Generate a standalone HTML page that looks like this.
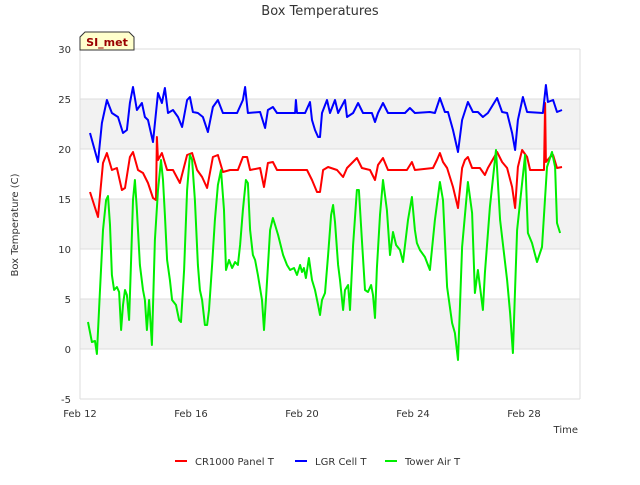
<!DOCTYPE html>
<html><head><meta charset="utf-8"><style>
body{margin:0;background:#fff;font-family:"Liberation Sans","DejaVu Sans",sans-serif}
svg text{font-family:"DejaVu Sans","Liberation Sans",sans-serif}
</style></head><body>
<svg id="chart" width="640" height="480" xmlns="http://www.w3.org/2000/svg">
<rect width="640" height="480" fill="#fff"/>
<g id="bands"></g><g id="grid"></g><g id="axes"></g><g id="series"></g>
<text x="320" y="15" text-anchor="middle" font-size="13" fill="#333">Box Temperatures</text>
<text x="18" y="225" text-anchor="middle" font-size="10" fill="#333" transform="rotate(-90 18 225)">Box Temperature (C)</text>
<text x="578" y="433" text-anchor="end" font-size="10" fill="#333">Time</text>
<g>
<path d="M80,50 L80,37 L85,32 L129,32 L134,37 L134,50 Z" fill="#ffffcc" stroke="#333" stroke-width="1"/>
<text x="107" y="46" text-anchor="middle" font-size="11" font-weight="bold" fill="#990000">SI_met</text>
</g>
<g id="legend"></g>
</svg>
<script>
const yTicks=[-5,0,5,10,15,20,25,30];
const xTickDays=[0,4,8,12,16];
const xTickLabels=["Feb 12","Feb 16","Feb 20","Feb 24","Feb 28"];
const seriesNames=["CR1000 Panel T","LGR Cell T","Tower Air T"];
const seriesColors=["#ff0000","#0000ff","#00ee00"];
const panelT=[[0.36,15.7],[0.65,13.2],[0.83,18.6],[0.97,19.6],[1.15,17.9],[1.33,18.1],[1.51,15.9],[1.62,16.1],[1.80,19.2],[1.91,19.7],[2.09,17.9],[2.27,17.6],[2.45,16.6],[2.63,15.1],[2.74,14.9],[2.77,21.2],[2.81,18.9],[2.95,19.6],[3.14,17.9],[3.35,17.9],[3.60,16.6],[3.86,19.4],[4.04,19.6],[4.22,17.9],[4.40,17.2],[4.58,16.1],[4.79,19.2],[4.97,19.4],[5.15,17.7],[5.41,17.9],[5.69,17.9],[5.87,19.2],[6.02,19.2],[6.13,17.9],[6.49,18.1],[6.63,16.2],[6.77,18.6],[6.95,18.7],[7.10,17.9],[7.82,17.9],[8.18,17.9],[8.36,16.9],[8.54,15.7],[8.65,15.7],[8.76,17.9],[8.94,18.2],[9.26,17.9],[9.48,17.2],[9.62,18.1],[9.98,19.1],[10.16,18.1],[10.45,17.9],[10.63,16.9],[10.74,18.4],[10.92,19.1],[11.10,17.9],[11.78,17.9],[11.96,18.7],[12.07,17.9],[12.72,18.1],[12.86,18.9],[12.97,19.6],[13.08,18.7],[13.23,18.1],[13.44,16.2],[13.62,14.1],[13.77,18.1],[13.87,18.9],[13.98,19.2],[14.13,18.1],[14.41,18.1],[14.59,17.4],[14.70,18.1],[15.03,19.7],[15.21,18.7],[15.39,18.1],[15.57,16.2],[15.68,14.1],[15.78,18.2],[15.93,19.9],[16.11,19.2],[16.22,17.9],[16.72,17.9],[16.76,24.6],[16.79,18.7],[16.94,19.2],[17.05,19.4],[17.19,18.1],[17.37,18.2]];
const lgrT=[[0.36,21.6],[0.65,18.7],[0.79,22.6],[0.97,24.9],[1.15,23.6],[1.37,23.2],[1.55,21.6],[1.69,21.9],[1.80,24.6],[1.91,26.2],[2.05,23.9],[2.23,24.6],[2.34,23.2],[2.45,22.9],[2.63,20.7],[2.81,25.6],[2.95,24.6],[3.06,26.1],[3.17,23.6],[3.35,23.9],[3.53,23.2],[3.68,22.2],[3.86,24.9],[3.96,25.2],[4.07,23.7],[4.25,23.6],[4.43,23.2],[4.61,21.7],[4.79,24.2],[4.97,24.9],[5.15,23.6],[5.66,23.6],[5.87,24.9],[5.95,26.2],[6.05,23.6],[6.49,23.7],[6.67,22.1],[6.77,23.9],[6.95,24.2],[7.10,23.6],[7.75,23.6],[7.78,24.9],[7.82,23.6],[8.11,23.6],[8.29,24.7],[8.36,22.9],[8.47,21.9],[8.58,21.2],[8.65,21.2],[8.72,23.6],[8.90,24.9],[9.01,23.6],[9.19,24.9],[9.30,23.6],[9.55,24.9],[9.62,23.2],[9.84,23.6],[10.02,24.6],[10.20,23.6],[10.52,23.6],[10.63,22.7],[10.74,23.6],[10.92,24.6],[11.10,23.6],[11.71,23.6],[11.89,24.1],[12.07,23.6],[12.61,23.7],[12.79,23.6],[12.97,25.1],[13.15,23.7],[13.26,23.7],[13.44,21.9],[13.62,19.7],[13.77,22.9],[13.98,24.7],[14.16,23.7],[14.34,23.7],[14.52,23.2],[14.70,23.6],[15.03,25.1],[15.21,23.7],[15.39,23.6],[15.57,21.6],[15.68,19.9],[15.78,22.9],[15.96,25.2],[16.11,23.7],[16.68,23.6],[16.79,26.4],[16.86,24.7],[17.05,24.9],[17.19,23.7],[17.37,23.9]];
const airT=[[0.29,2.7],[0.43,0.7],[0.54,0.8],[0.61,-0.5],[0.72,5.9],[0.83,11.9],[0.94,14.9],[1.01,15.3],[1.08,12.4],[1.15,7.4],[1.23,5.9],[1.33,6.2],[1.41,5.7],[1.48,1.9],[1.55,4.4],[1.62,5.9],[1.69,5.4],[1.77,2.9],[1.84,8.9],[1.91,14.9],[1.98,16.9],[2.05,13.9],[2.16,8.4],[2.27,5.9],[2.34,4.9],[2.41,1.9],[2.49,4.9],[2.59,0.4],[2.70,10.9],[2.81,15.9],[2.92,18.9],[2.99,16.9],[3.06,13.4],[3.14,8.9],[3.24,6.9],[3.32,4.9],[3.46,4.4],[3.57,2.9],[3.64,2.7],[3.75,7.9],[3.86,15.9],[3.96,19.4],[4.04,18.9],[4.14,14.9],[4.25,8.4],[4.32,5.9],[4.40,4.9],[4.50,2.4],[4.58,2.4],[4.65,3.9],[4.76,8.4],[4.86,12.9],[4.97,16.4],[5.08,17.9],[5.19,13.9],[5.26,7.9],[5.37,8.9],[5.48,8.1],[5.59,8.7],[5.69,8.4],[5.77,10.4],[5.87,13.9],[5.98,16.9],[6.05,16.6],[6.13,11.9],[6.23,9.4],[6.31,8.9],[6.41,7.4],[6.56,4.9],[6.63,1.9],[6.70,4.9],[6.85,11.9],[6.95,13.1],[7.03,12.4],[7.14,11.4],[7.32,9.4],[7.46,8.4],[7.57,7.9],[7.71,8.1],[7.82,7.4],[7.93,8.4],[8.00,7.7],[8.07,8.1],[8.14,7.1],[8.25,9.1],[8.36,6.9],[8.47,5.9],[8.58,4.4],[8.65,3.4],[8.72,4.9],[8.83,5.6],[8.94,9.4],[9.05,13.4],[9.12,14.4],[9.19,12.7],[9.30,8.4],[9.37,6.9],[9.48,3.9],[9.55,5.9],[9.66,6.4],[9.73,3.9],[9.84,10.4],[9.98,15.9],[10.05,15.9],[10.16,10.9],[10.27,5.9],[10.38,5.7],[10.49,6.4],[10.56,5.4],[10.63,3.1],[10.70,8.1],[10.81,13.4],[10.92,16.9],[11.06,13.9],[11.17,9.4],[11.28,11.7],[11.39,10.4],[11.53,9.9],[11.64,8.7],[11.82,12.9],[11.96,15.2],[12.07,11.9],[12.14,10.6],[12.25,9.9],[12.43,9.2],[12.61,7.9],[12.79,12.9],[12.97,16.7],[13.08,14.9],[13.23,6.2],[13.41,2.6],[13.51,1.6],[13.62,-1.1],[13.77,10.2],[13.98,16.7],[14.13,13.6],[14.23,5.6],[14.34,7.9],[14.52,3.9],[14.59,7.6],[14.77,14.2],[14.99,19.9],[15.14,12.9],[15.39,6.9],[15.50,3.6],[15.60,-0.4],[15.75,11.9],[16.04,19.4],[16.14,11.6],[16.29,10.6],[16.47,8.7],[16.65,10.2],[16.83,18.2],[17.01,19.7],[17.12,18.2],[17.19,12.6],[17.30,11.6]];

const L=80,R=580,T=49,B=399,NS="http://www.w3.org/2000/svg";
const xMin=0,xMax=(R-L)/27.75;
function xs(d){return L+(d-xMin)/(xMax-xMin)*(R-L);}
function ys(v){return B-(v+5)/35*(B-T);}
function mk(tag,attrs,parent){const e=document.createElementNS(NS,tag);for(const k in attrs)e.setAttribute(k,attrs[k]);parent.appendChild(e);return e;}
const bands=document.getElementById('bands'),grid=document.getElementById('grid'),axes=document.getElementById('axes'),ser=document.getElementById('series');
mk('rect',{x:L,y:T,width:R-L,height:B-T,fill:'#fff'},bands);
for(let i=0;i<yTicks.length-1;i++){
  if(i%2===1){const b=mk('rect',{x:L,y:ys(yTicks[i+1]),width:R-L,height:ys(yTicks[i])-ys(yTicks[i+1]),fill:'#f2f2f2'},bands);
  
  }
}
yTicks.forEach(v=>{
  const g=mk('line',{x1:L,x2:R,y1:ys(v),y2:ys(v),stroke:'#dddddd','stroke-width':1},grid);
  
  
  const t=mk('text',{x:L-9,y:ys(v)+4,'text-anchor':'end','font-size':10,fill:'#333'},axes);
  t.textContent=v;
  
  
});
mk('line',{x1:L,x2:L,y1:T,y2:B,stroke:'#dddddd'},grid);
mk('line',{x1:R,x2:R,y1:T,y2:B,stroke:'#dddddd'},grid);
xTickDays.forEach((d,i)=>{
  const t=mk('text',{x:xs(d),y:B+18,'text-anchor':'middle','font-size':10,fill:'#333'},axes);
  t.textContent=xTickLabels[i];
  
  
});
[panelT,lgrT,airT].forEach((data,i)=>{
  const p=mk('path',{d:data.map((pt,j)=>(j?'L':'M')+xs(pt[0]).toFixed(1)+','+ys(pt[1]).toFixed(1)).join(''),fill:'none',stroke:seriesColors[i],'stroke-width':2,'stroke-linejoin':'round'},ser);
  
  
});
const leg=document.getElementById('legend');
const lx=[175,295,385];
seriesNames.forEach((n,i)=>{
  const g=mk('g',{},leg);
  
  
  mk('line',{x1:lx[i],x2:lx[i]+12,y1:461,y2:461,stroke:seriesColors[i],'stroke-width':2},g);
  const t=mk('text',{x:lx[i]+20,y:465,'font-size':10,fill:'#333'},g);
  t.textContent=n;
});
</script>
</body></html>
